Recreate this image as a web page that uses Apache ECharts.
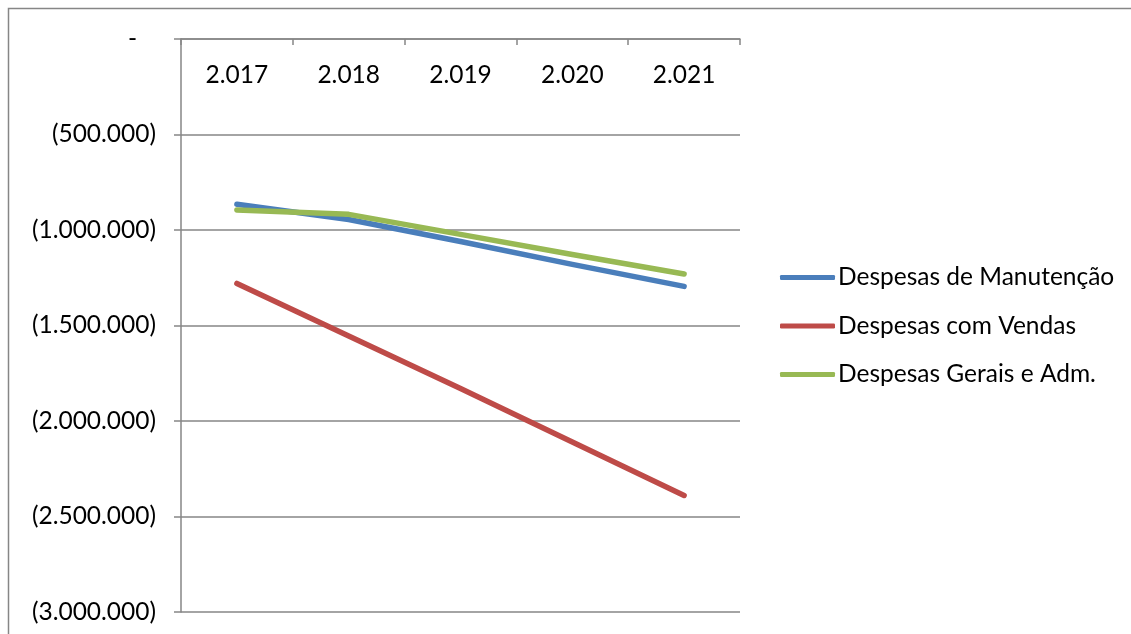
<!DOCTYPE html>
<html>
<head>
<meta charset="utf-8">
<script src="https://cdn.jsdelivr.net/npm/echarts@6/dist/echarts.min.js"></script>
<style>
  html, body { margin: 0; padding: 0; background: #fff; }
  #chart { width: 1131px; height: 634px; }
</style>
</head>
<body>
<div id="chart"></div>
<script>
// Years (shown with a thousands dot, as in the source spreadsheet)
const categories = ['2.017', '2.018', '2.019', '2.020', '2.021'];

// Expense series (negative values, in R$)
const manutencao = [-865000, -945000, -1060000, -1180000, -1295000];
const vendas = [-1280000, -1555000, -1830000, -2110000, -2390000];
const geraisAdm = [-895000, -918000, -1023000, -1128000, -1230000];

const seriesNames = ['Despesas de Manutenção', 'Despesas com Vendas', 'Despesas Gerais e Adm.'];
const seriesColors = ['#4A7EBB', '#BE4B48', '#98B954'];

const FONT = 'Lato';
const FONT_SIZE = 24.5;
const AXIS_GRAY = '#868686';

// Accounting style: 0 -> "-", negatives in parentheses, dot thousands separator
function fmtValue(v) {
  if (v === 0) return '{dash|-}';
  const s = Math.abs(v).toString().replace(/\B(?=(\d{3})+(?!\d))/g, '.');
  return v < 0 ? '(' + s + ')' : s;
}

function lineSeries(name, data, color) {
  return {
    name: name,
    type: 'line',
    data: data,
    symbol: 'none',
    smooth: false,
    lineStyle: { color: color, width: 5.5, cap: 'round', join: 'round' },
    itemStyle: { color: color },
    z: 3
  };
}

const chart = echarts.init(document.getElementById('chart'), null, { renderer: 'canvas' });
chart.setOption({
  animation: false,
  backgroundColor: '#fff',
  textStyle: { fontFamily: FONT },
  graphic: [{
    type: 'rect',
    shape: { x: 8.5, y: 8.5, width: 1140, height: 650 },
    style: { fill: 'none', stroke: AXIS_GRAY, lineWidth: 1.5 },
    silent: true,
    z: -1
  }],
  grid: { left: 181, top: 39, width: 559, height: 573, containLabel: false },
  legend: {
    orient: 'vertical',
    left: 780,
    top: 265,
    itemWidth: 55,
    itemHeight: 5,
    itemGap: 23.5,
    padding: 0,
    icon: 'roundRect',
    data: seriesNames,
    textStyle: { fontFamily: FONT, fontSize: FONT_SIZE, color: '#000', padding: [0, 0, 0, -2] }
  },
  xAxis: {
    type: 'category',
    position: 'top',
    data: categories,
    boundaryGap: true,
    axisLine: { show: true, onZero: false, lineStyle: { color: AXIS_GRAY, width: 1.5 } },
    axisTick: { show: true, inside: true, length: 6, alignWithLabel: false, lineStyle: { color: AXIS_GRAY, width: 1.5 } },
    axisLabel: { inside: true, margin: 24, fontFamily: FONT, fontSize: FONT_SIZE, color: '#000' },
    splitLine: { show: false }
  },
  yAxis: {
    type: 'value',
    min: -3000000,
    max: 0,
    interval: 500000,
    axisLine: { show: true, lineStyle: { color: AXIS_GRAY, width: 1.5 } },
    axisTick: { show: true, length: 7, lineStyle: { color: AXIS_GRAY, width: 1.5 } },
    axisLabel: {
      margin: 25,
      fontFamily: FONT,
      fontSize: FONT_SIZE,
      color: '#000',
      formatter: fmtValue,
      rich: { dash: { fontFamily: FONT, fontSize: FONT_SIZE, color: '#000', padding: [0, 19, 0, 0] } }
    },
    splitLine: { show: true, lineStyle: { color: AXIS_GRAY, width: 1.5 } }
  },
  series: [
    lineSeries(seriesNames[0], manutencao, seriesColors[0]),
    lineSeries(seriesNames[1], vendas, seriesColors[1]),
    lineSeries(seriesNames[2], geraisAdm, seriesColors[2])
  ]
});
</script>
</body>
</html>
